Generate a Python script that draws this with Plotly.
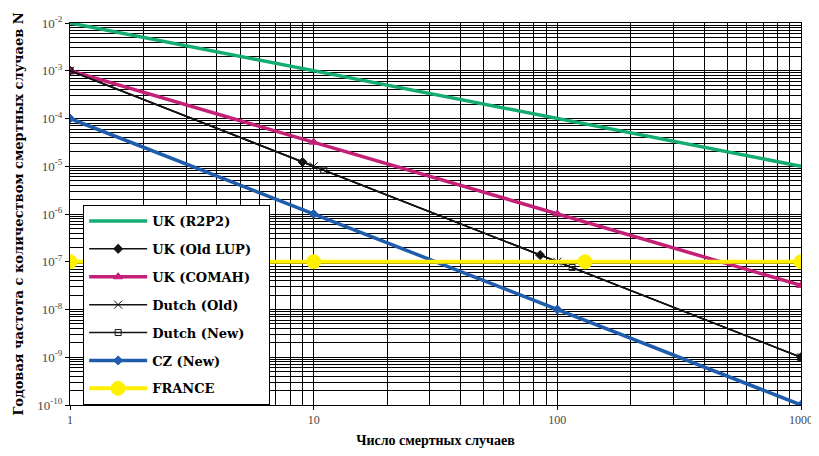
import plotly.graph_objects as go

# Data (N = number of fatalities, F = annual frequency)
r2p2_N = [1, 10, 100, 1000]
r2p2_F = [1e-2, 1e-3, 1e-4, 1e-5]

oldlup_N = [1, 9, 85, 1000]
oldlup_F = [1e-3, 1.23e-5, 1.38e-7, 1e-9]

comah_N = [1, 10, 100, 1000]
comah_F = [1e-3, 3.2e-5, 1e-6, 3.2e-8]

dutchold_N = [1, 10, 100, 1000]
dutchold_F = [1e-3, 1e-5, 1e-7, 1e-9]

dutchnew_N = [1, 11, 115, 1000]
dutchnew_F = [1e-3, 8.3e-6, 7.6e-8, 1e-9]

cz_N = [1, 10, 100, 1000]
cz_F = [1e-4, 1e-6, 1e-8, 1e-10]

france_N = [1, 10, 130, 1000]
france_F = [1e-7, 1e-7, 1e-7, 1e-7]

x_tickvals = [1, 10, 100, 1000]
x_ticktext = ["1", "10", "100", "1000"]
y_exps = [-2, -3, -4, -5, -6, -7, -8, -9, -10]
minor_mults = [2, 3, 4, 5, 6, 7, 8, 9]
x_minor = [m * 10 ** k for k in range(0, 3) for m in minor_mults]
y_minor = [m * 10.0 ** k for k in range(-10, -2) for m in minor_mults]

GREEN = "rgb(20,172,112)"
MAGENTA = "rgb(196,32,120)"
BLUE = "rgb(32,92,172)"
YELLOW = "rgb(255,240,0)"
BLACK = "rgb(20,20,20)"

fig = go.Figure()
def add(x, y, name, color, width, symbol=None, size=7):
    mode = "lines+markers" if symbol else "lines"
    marker = None
    if symbol:
        marker = dict(symbol=symbol, size=size, color=color,
                      line=dict(color=color, width=1))
    fig.add_trace(go.Scatter(x=x, y=y, name="<b>%s</b>&nbsp;&nbsp;&nbsp;" % name,
                             mode=mode, legendgroup=name,
                             line=dict(color=color, width=width), marker=marker))

add(r2p2_N, r2p2_F, "UK (R2P2)", GREEN, 3.5)
add(oldlup_N, oldlup_F, "UK (Old LUP)", BLACK, 1.5, "diamond", 7)
add(comah_N, comah_F, "UK (COMAH)", MAGENTA, 3.5, "triangle-up", 8)
add(dutchold_N, dutchold_F, "Dutch (Old)", BLACK, 1.5, "x-thin-open", 8)
add(dutchnew_N, dutchnew_F, "Dutch (New)", BLACK, 1.5, "square-open", 6)
add(cz_N, cz_F, "CZ (New)", BLUE, 3.5, "diamond", 7)
add(france_N, france_F, "FRANCE", YELLOW, 4, "circle", 14)

# page body adds an 8px offset, so the figure is 8px smaller and margins shifted
fig.update_layout(
    width=811, height=448,
    margin=dict(l=62, r=18, t=15, b=51),
    paper_bgcolor="white", plot_bgcolor="white",
    font=dict(family="Liberation Serif", color="black"),
    showlegend=True,
    legend=dict(x=0.018, y=0.5236, xanchor="left", yanchor="top",
                bgcolor="white", bordercolor="black", borderwidth=1,
                font=dict(family="DejaVu Serif", size=13, color="black"),
                itemwidth=58, tracegroupgap=8),
)
fig.update_xaxes(
    type="log", range=[0, 3], automargin=False,
    tickvals=x_tickvals, ticktext=x_ticktext,
    tickfont=dict(size=12, color="rgb(70,70,70)"),
    showline=True, linecolor="black", linewidth=1, mirror=True,
    ticks="outside", ticklen=4, tickcolor="black",
    showgrid=True, gridcolor="black", gridwidth=1,
    minor=dict(tickmode="array", tickvals=x_minor, showgrid=True,
               gridcolor="black", gridwidth=1, ticks=""),
    title=dict(text="<b>Число смертных случаев</b>", font=dict(size=14), standoff=8),
    zeroline=False,
)
fig.update_yaxes(
    type="log", range=[-10, -2], automargin=False,
    tickvals=[10.0 ** e for e in y_exps],
    ticktext=["10<sup>%d</sup>" % e for e in y_exps],
    tickfont=dict(size=13, color="rgb(70,70,70)"),
    showline=True, linecolor="black", linewidth=1, mirror=True,
    ticks="outside", ticklen=4, tickcolor="black",
    showgrid=True, gridcolor="black", gridwidth=1,
    minor=dict(tickmode="array", tickvals=y_minor, showgrid=True,
               gridcolor="black", gridwidth=1, ticks=""),
    title=dict(text="<b>Годовая частота с количеством смертных случаев N</b>",
               font=dict(family="DejaVu Serif", size=13), standoff=10),
    zeroline=False,
)

fig.write_html("out.html")
